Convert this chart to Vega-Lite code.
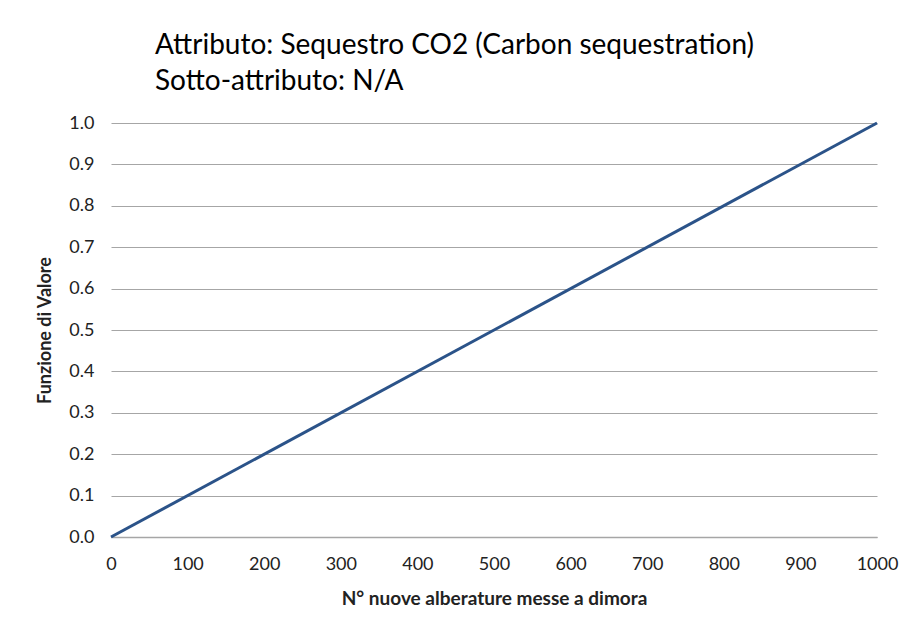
{
  "$schema": "https://vega.github.io/schema/vega-lite/v6.json",
  "width": 766,
  "height": 414,
  "autosize": {"type": "none"},
  "padding": {"left": 111, "top": 123, "right": 26, "bottom": 88},
  "background": "white",
  "title": {
    "text": ["Attributo: Sequestro CO2 (Carbon sequestration)", "Sotto-attributo: N/A"],
    "anchor": "start",
    "frame": "group",
    "dx": 44,
    "offset": 18,
    "font": "Lato",
    "fontSize": 28,
    "fontWeight": "normal",
    "lineHeight": 36,
    "color": "black"
  },
  "data": {"values": [{"x": 0, "y": 0}, {"x": 1000, "y": 1}]},
  "mark": {"type": "line", "color": "#2B5389", "strokeWidth": 3},
  "encoding": {
    "x": {
      "field": "x", "type": "quantitative",
      "scale": {"domain": [0, 1000], "nice": false},
      "axis": {
        "title": "N° nuove alberature messe a dimora",
        "values": [0,100,200,300,400,500,600,700,800,900,1000],
        "format": "d",
        "grid": false, "ticks": false,
        "domainColor": "#a6a6a6", "domainWidth": 1.5,
        "labelFont": "Lato", "labelFontSize": 18, "labelColor": "#222",
        "labelPadding": 18, "labelFlush": false,
        "titleFont": "Lato", "titleFontSize": 19, "titleFontWeight": "bold", "titleColor": "#222",
        "titlePadding": 16
      }
    },
    "y": {
      "field": "y", "type": "quantitative",
      "scale": {"domain": [0, 1], "nice": false},
      "axis": {
        "title": "Funzione di Valore",
        "values": [0,0.1,0.2,0.3,0.4,0.5,0.6,0.7,0.8,0.9,1.0],
        "format": ".1f",
        "grid": true, "gridColor": "#a6a6a6", "gridWidth": 1.2,
        "domain": false, "ticks": false,
        "labelFont": "Lato", "labelFontSize": 18, "labelColor": "#222",
        "labelPadding": 17,
        "titleFont": "Lato", "titleFontSize": 18, "titleFontWeight": "bold", "titleColor": "#222",
        "titlePadding": 14
      }
    }
  },
  "config": {"view": {"stroke": null}}
}
